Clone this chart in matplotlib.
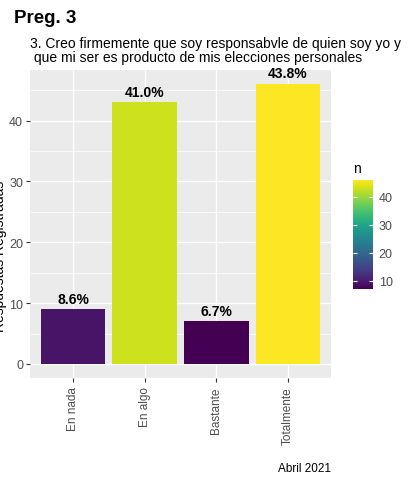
import matplotlib
matplotlib.use("Agg")
import matplotlib.pyplot as plt
from matplotlib.colors import Normalize
from matplotlib.cm import ScalarMappable
from matplotlib.ticker import MultipleLocator
import numpy as np

plt.rcParams["font.family"] = ["Liberation Sans", "DejaVu Sans"]

categories = ["En nada", "En algo", "Bastante", "Totalmente"]
counts = [9, 43, 7, 46]
pct_labels = ["8.6%", "41.0%", "6.7%", "43.8%"]

title = "Preg. 3"
subtitle = "3. Creo firmemente que soy responsabvle de quien soy yo y\n que mi ser es producto de mis elecciones personales"
caption = "Abril 2021"
ylabel = "Respuestas Registradas"

fig = plt.figure(figsize=(4.12, 4.81), dpi=100)
ax = fig.add_axes([0.0728, 0.2121, 0.7306, 0.6403])

norm = Normalize(vmin=min(counts), vmax=max(counts))
cmap = plt.get_cmap("viridis")
x = np.arange(1, len(categories) + 1)

ax.set_facecolor("#EBEBEB")
ax.bar(x, counts, width=0.9, color=[cmap(norm(c)) for c in counts], zorder=3)
for xi, c, lab in zip(x, counts, pct_labels):
    ax.text(xi, c + 0.6, lab, ha="center", va="bottom", fontsize=10,
            fontweight="bold", color="black", zorder=4)

ax.set_xlim(0.4, 4.6)
ax.set_ylim(-2.3, 48.3)
ax.set_xticks(x)
ax.set_xticklabels(categories, rotation=90, fontsize=8.5, color="#4D4D4D")
ax.yaxis.set_major_locator(MultipleLocator(10))
ax.yaxis.set_minor_locator(MultipleLocator(5))
ax.tick_params(axis="y", labelsize=9, labelcolor="#4D4D4D", color="#333333", length=3, pad=2)
ax.tick_params(axis="y", which="minor", length=0)
ax.tick_params(axis="x", color="#333333", length=3, pad=3)
ax.grid(which="major", color="white", linewidth=1.0, zorder=0)
ax.grid(which="minor", axis="y", color="white", linewidth=0.5, zorder=0)
ax.set_axisbelow(True)
for s in ax.spines.values():
    s.set_visible(False)

fig.text(0.0, 0.468, ylabel, rotation=90, ha="center", va="center", fontsize=10)
fig.text(0.034, 0.962, title, fontsize=13.5, fontweight="bold", ha="left", va="center")
fig.text(0.073, 0.893, subtitle, fontsize=10, ha="left", va="center", linespacing=1.0)
fig.text(0.803, 0.012, caption, fontsize=8.5, ha="right", va="bottom")

cax = fig.add_axes([0.857, 0.397, 0.0485, 0.2266])
sm = ScalarMappable(norm=norm, cmap=cmap)
cb = fig.colorbar(sm, cax=cax, ticks=[10, 20, 30, 40])
cb.outline.set_visible(False)
cax.tick_params(axis="y", left=True, right=True, direction="in", color="white",
                length=3, width=0.8, labelsize=9, labelcolor="#4D4D4D", pad=4)
cax.set_title("n", fontsize=10, loc="left", pad=6)

fig.savefig("out.png", dpi=100)
